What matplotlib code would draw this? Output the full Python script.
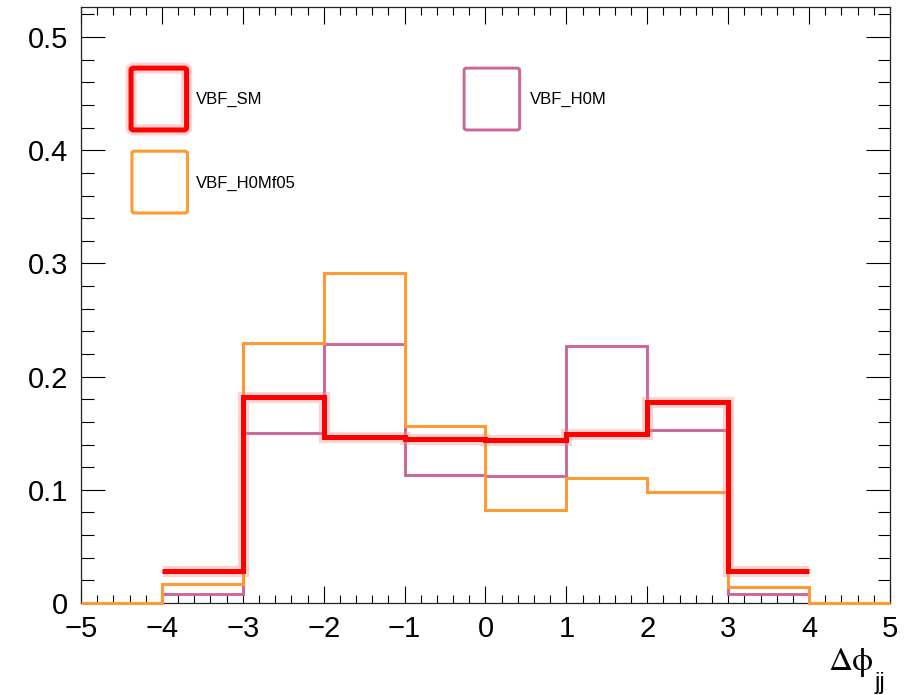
import numpy as np
import matplotlib.pyplot as plt
import matplotlib.patheffects as pe
from matplotlib.patches import FancyBboxPatch
from matplotlib.ticker import MultipleLocator

plt.rcParams['font.family'] = ['Liberation Sans', 'DejaVu Sans']

# binning of delta phi_jj
bin_edges = np.arange(-5, 6, 1)

# normalised yields per bin
vbf_sm = np.array([0.0, 0.028, 0.182, 0.147, 0.145, 0.144, 0.149, 0.178, 0.028, 0.0])
vbf_h0m = np.array([0.0, 0.008, 0.150, 0.229, 0.113, 0.112, 0.227, 0.153, 0.008, 0.0])
vbf_h0mf05 = np.array([0.0, 0.017, 0.230, 0.292, 0.156, 0.082, 0.110, 0.098, 0.014, 0.0])

names = ["VBF_SM", "VBF_H0M", "VBF_H0Mf05"]
colors = ["#ff0000", "#cc6699", "#ff9933"]

glow = [pe.Stroke(linewidth=8, foreground="#ff8080", alpha=0.35), pe.Normal()]

fig = plt.figure(figsize=(9.1, 6.95), dpi=100)
ax = fig.add_axes([0.089, 0.1324, 0.889, 0.8582])

ax.stairs(vbf_h0m[1:-1], bin_edges[1:-1], baseline=0, color=colors[1], lw=2.1, zorder=2)
ax.stairs(vbf_h0mf05, bin_edges, baseline=None, color=colors[2], lw=2.2, zorder=3,
          clip_on=False)
ax.stairs(vbf_sm[1:-1], bin_edges[1:-1], baseline=None, color=colors[0], lw=3.6,
          zorder=4, path_effects=glow)

ax.set_xlim(-5, 5)
ax.set_ylim(0, 0.527)

ax.xaxis.set_major_locator(MultipleLocator(1))
ax.xaxis.set_minor_locator(MultipleLocator(0.2))
ax.yaxis.set_major_locator(MultipleLocator(0.1))
ax.yaxis.set_minor_locator(MultipleLocator(0.02))
ax.set_yticks(np.arange(0, 0.51, 0.1))
ax.set_yticklabels(["0", "0.1", "0.2", "0.3", "0.4", "0.5"])

ax.tick_params(axis='x', which='major', direction='in', length=12, width=0.8,
               top=True, labelsize=21, pad=9)
ax.tick_params(axis='x', which='minor', direction='in', length=6, width=0.8, top=True)
ax.tick_params(axis='y', which='major', direction='in', length=17, width=0.8,
               right=True, labelsize=21, pad=9)
ax.tick_params(axis='y', which='minor', direction='in', length=9, width=0.8, right=True)
for s in ax.spines.values():
    s.set_linewidth(0.9)
    s.set_color("#222222")

# axis title: Delta phi with jj subscript
fig.text(0.9593, 0.036, "\u0394\u03d5", ha='right', va='baseline', fontsize=24,
         family='STIXGeneral')
fig.text(0.9615, 0.009, "jj", ha='left', va='baseline', fontsize=17)

# legend, drawn as ROOT-style empty boxes
leg_boxes = [(0.144, 0.813), (0.510, 0.813), (0.145, 0.6935)]
leg_text = [(0.2154, 0.8576), (0.5824, 0.8576), (0.2154, 0.7367)]
widths = [3.6, 2.1, 2.2]
for i, name in enumerate(names):
    bx, by = leg_boxes[i]
    box = FancyBboxPatch((bx, by), 0.061, 0.089, boxstyle="round,pad=0,rounding_size=0.003",
                         transform=fig.transFigure, fill=False, edgecolor=colors[i],
                         lw=widths[i])
    if i == 0:
        box.set_path_effects(glow)
    fig.patches.append(box)
    tx, ty = leg_text[i]
    fig.text(tx, ty, name, ha='left', va='center', fontsize=12)

fig.savefig("out.png", dpi=100)
